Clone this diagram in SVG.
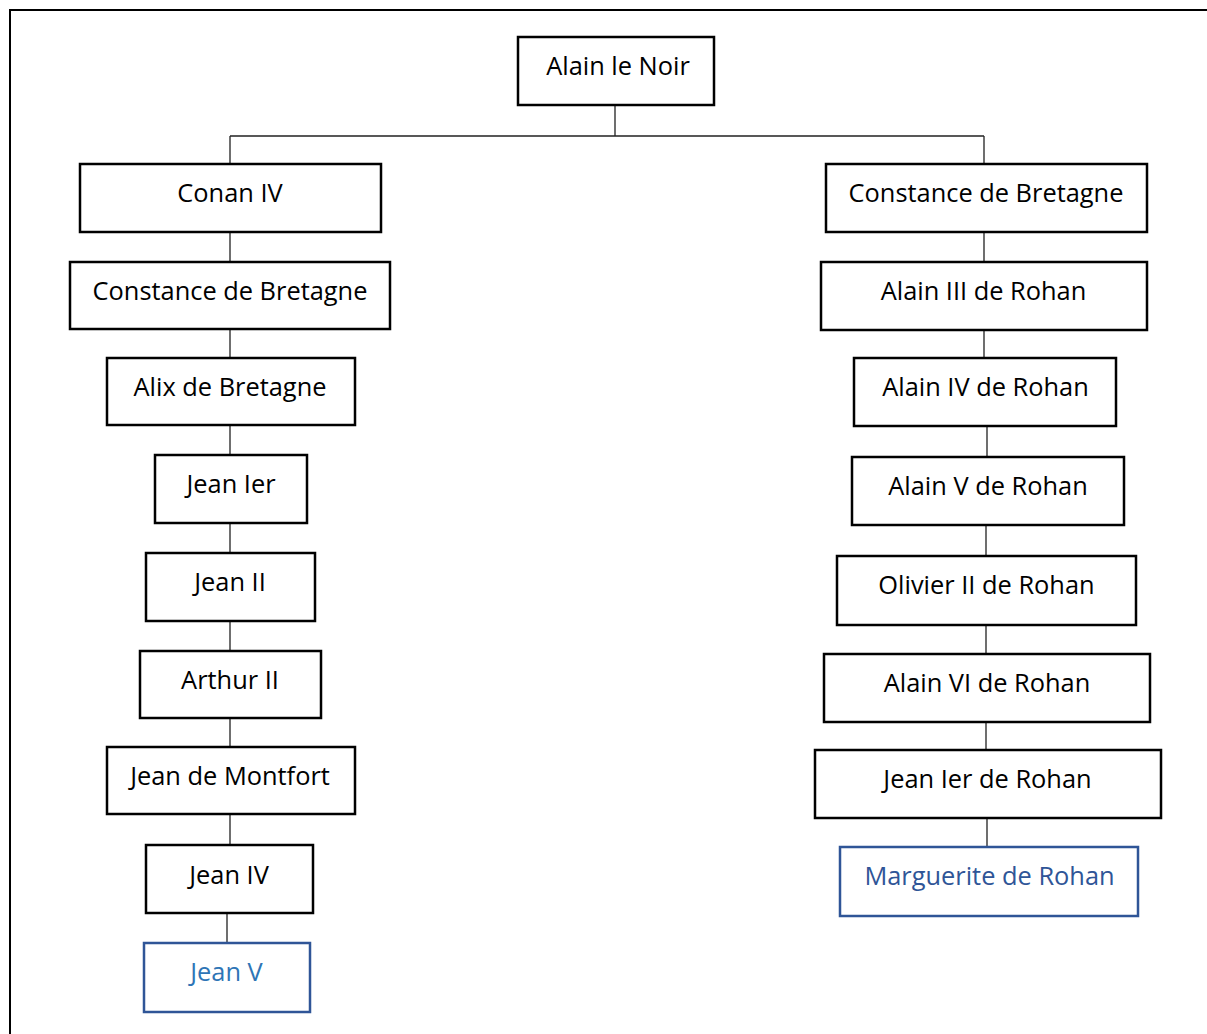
<svg xmlns="http://www.w3.org/2000/svg" width="1207" height="1034" viewBox="0 0 1207 1034">
<style>
.box{fill:#fff;stroke:#000;stroke-width:2.5}
.blue{fill:#fff;stroke:#2F5597;stroke-width:2.5}
.t{font-family:"Open Sans","Noto Sans",sans-serif;font-size:25.4px;fill:#000;text-anchor:middle}
.tb1{fill:#2E75B6}
.tb2{fill:#2F5597}
.c{stroke:#222;stroke-width:1.3;fill:none}
</style>
<rect x="0" y="0" width="1207" height="1034" fill="#fff"/>
<rect x="10" y="10" width="1220" height="1050" fill="none" stroke="#000" stroke-width="2"/>
<g id="connectors">
<path class="c" d="M615 106V136M230 136H984M230 136V163M984 136V163"/>
<path class="c" d="M230 233V261M230 330V357M230 426V454M230 524V552M230 622V650M230 719V746M230 815V844M227 914V942"/>
<path class="c" d="M984 233V261M984 331V357M987 427V456M986 526V555M986 626V653M986 723V749M987 819V846"/>
</g>
<g id="n-alain-le-noir"><rect class="box" x="518" y="37" width="196" height="68"/><text class="t" x="618" y="75">Alain le Noir</text></g>
<g id="n-conan-iv"><rect class="box" x="80" y="164" width="301" height="68"/><text class="t" x="230" y="202">Conan IV</text></g>
<g id="n-constance-l"><rect class="box" x="70" y="262" width="320" height="67"/><text class="t" x="230" y="299.5">Constance de Bretagne</text></g>
<g id="n-alix"><rect class="box" x="107" y="358" width="248" height="67"/><text class="t" x="230" y="396">Alix de Bretagne</text></g>
<g id="n-jean-ier"><rect class="box" x="155" y="455" width="152" height="68"/><text class="t" x="231" y="493">Jean Ier</text></g>
<g id="n-jean-ii"><rect class="box" x="146" y="553" width="169" height="68"/><text class="t" x="230" y="591">Jean II</text></g>
<g id="n-arthur-ii"><rect class="box" x="140" y="651" width="181" height="67"/><text class="t" x="230" y="689">Arthur II</text></g>
<g id="n-jean-montfort"><rect class="box" x="107" y="747" width="248" height="67"/><text class="t" x="230" y="785">Jean de Montfort</text></g>
<g id="n-jean-iv"><rect class="box" x="146" y="845" width="167" height="68"/><text class="t" x="229" y="883.5">Jean IV</text></g>
<g id="n-jean-v"><rect class="blue" x="144" y="943" width="166" height="69"/><text class="t tb1" x="226.5" y="981">Jean V</text></g>
<g id="n-constance-r"><rect class="box" x="826" y="164" width="321" height="68"/><text class="t" x="986" y="202">Constance de Bretagne</text></g>
<g id="n-alain-iii"><rect class="box" x="821" y="262" width="326" height="68"/><text class="t" x="983.5" y="300">Alain III de Rohan</text></g>
<g id="n-alain-iv"><rect class="box" x="854" y="358" width="262" height="68"/><text class="t" x="985.5" y="396">Alain IV de Rohan</text></g>
<g id="n-alain-v"><rect class="box" x="852" y="457" width="272" height="68"/><text class="t" x="988" y="495">Alain V de Rohan</text></g>
<g id="n-olivier-ii"><rect class="box" x="837" y="556" width="299" height="69"/><text class="t" x="986.5" y="594">Olivier II de Rohan</text></g>
<g id="n-alain-vi"><rect class="box" x="824" y="654" width="326" height="68"/><text class="t" x="987" y="692">Alain VI de Rohan</text></g>
<g id="n-jean-ier-rohan"><rect class="box" x="815" y="750" width="346" height="68"/><text class="t" x="987.5" y="788">Jean Ier de Rohan</text></g>
<g id="n-marguerite"><rect class="blue" x="840" y="847" width="298" height="69"/><text class="t tb2" x="989.5" y="885">Marguerite de Rohan</text></g>
</svg>
